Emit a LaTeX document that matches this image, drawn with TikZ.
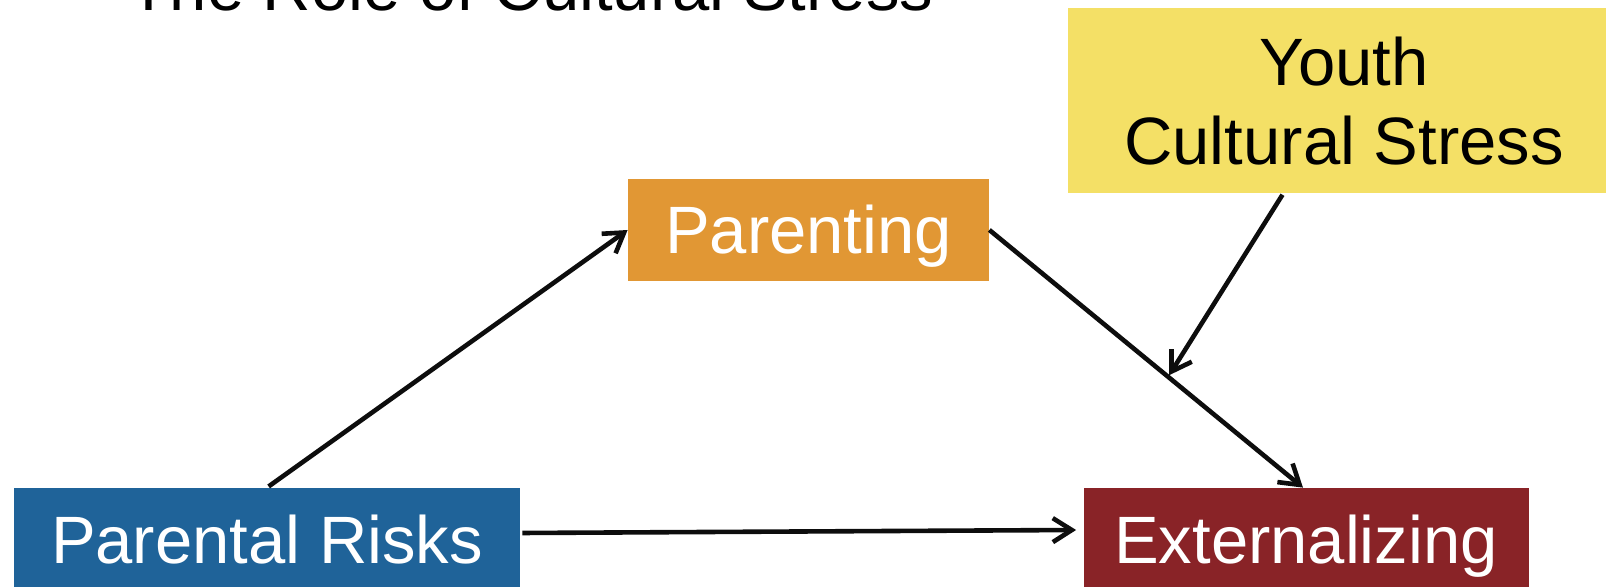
\documentclass[tikz,border=0pt]{standalone}
\usepackage{fontspec}
\setmainfont{Liberation Sans}
\usetikzlibrary{arrows.meta,calc}
\definecolor{riskblue}{HTML}{1F6399}
\definecolor{parentorange}{HTML}{E19734}
\definecolor{extred}{HTML}{892327}
\definecolor{stressyellow}{HTML}{F4E066}
\tikzset{
  boxnode/.style={inner sep=0pt, text height=24pt, text depth=0pt,
    minimum height=51pt, font=\fontsize{33.5pt}{39.5pt}\selectfont},
  path/.style={draw=black!95, line width=2.3pt,
    -{Straight Barb[length=9.5pt,width=12pt,line width=2.3pt]}},
}
\begin{document}
\begin{tikzpicture}[x=0.5pt,y=-0.5pt]
\useasboundingbox (0,0) rectangle (1606,587);
% title, mostly above the page edge
\node[anchor=base, inner sep=0pt, font=\fontsize{33.5pt}{39.5pt}\selectfont] (title) at (531,11) {The Role of Cultural Stress};
% boxes
\node[boxnode, fill=riskblue, text=white, minimum width=253pt] (pr) at (267,539) {Parental Risks};
\node[boxnode, fill=parentorange, text=white, minimum width=180.5pt] (par) at (808.5,230) {Parenting};
\node[boxnode, fill=extred, text=white, minimum width=222.5pt] (ext) at (1306,539) {Externalizing};
\node[boxnode, fill=stressyellow, text=black, align=center, text height=63.5pt,
  minimum width=276pt, minimum height=92.5pt] (ys) at (1344,101) {Youth\\Cultural Stress};
% paths
\draw[path, shorten <=1pt] (pr.north) -- (par.west);
\draw[path, shorten <=1pt] ([yshift=3pt]pr.east) -- ([yshift=4.5pt,xshift=-3.5pt]ext.west);
\draw[path] (par.east) -- ([xshift=-1.5pt]ext.north);
\coordinate (mid) at ($(par.east)!0.57!([xshift=-1.5pt]ext.north)$);
\draw[path, shorten <=0.5pt, shorten >=1pt] ([xshift=-30.5pt]ys.south) -- (mid);
\end{tikzpicture}
\end{document}
